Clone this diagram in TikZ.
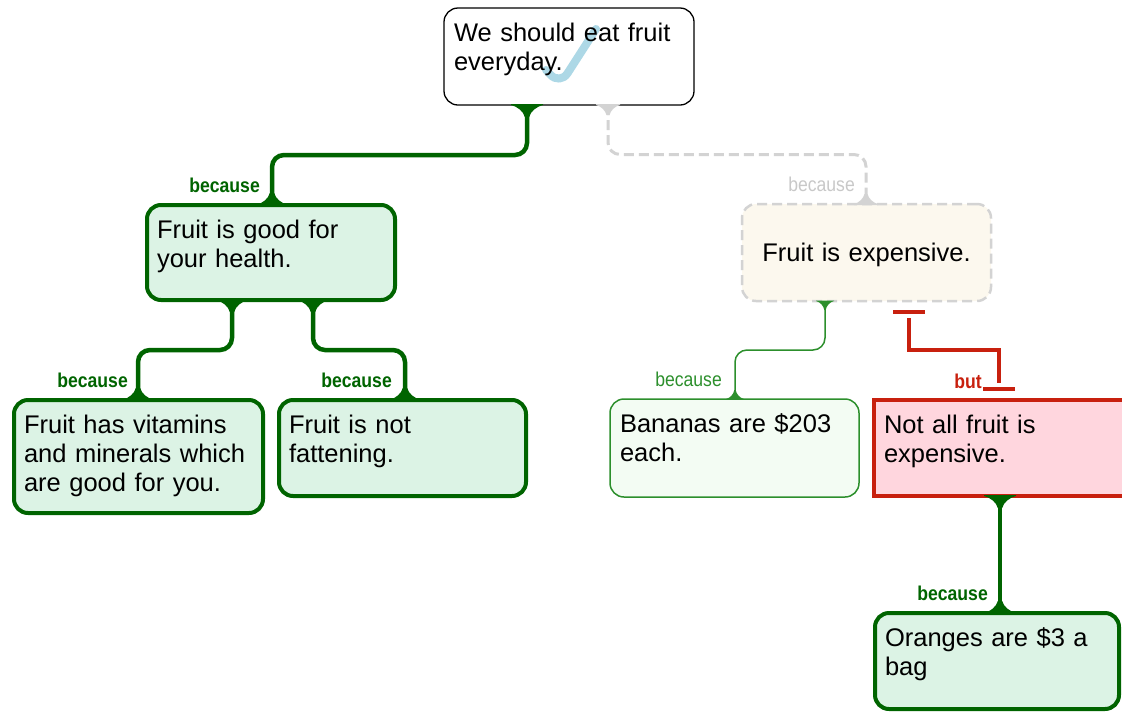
\documentclass[tikz,border=0pt]{standalone}
\usepackage{fontspec}
\setmainfont{Liberation Sans}
\newfontfamily\narrowsans{Liberation Sans}[FakeStretch=0.88]
\usetikzlibrary{calc}

\definecolor{proGreen}{HTML}{006400}
\definecolor{thinGreen}{HTML}{2C8F2C}
\definecolor{dimGray}{HTML}{D3D3D3}
\definecolor{dimText}{HTML}{C8C8C8}
\definecolor{butRed}{HTML}{C8200E}
\definecolor{mintFill}{HTML}{DCF3E5}
\definecolor{paleFill}{HTML}{F3FCF3}
\definecolor{creamFill}{HTML}{FCF8EE}
\definecolor{pinkFill}{HTML}{FFD6DE}
\definecolor{tickBlue}{HTML}{ADD8E6}

\tikzset{
  claim/.style={anchor=north west, align=left, inner xsep=10pt, inner ysep=0pt,
    outer sep=0pt, text height=33pt, rounded corners=14pt,
    font=\fontsize{25.5}{29}\selectfont},
  strongbox/.style={claim, draw=proGreen, fill=mintFill, line width=4pt},
  weakbox/.style={claim, draw=thinGreen, fill=paleFill, line width=1.5pt},
  greybox/.style={claim, draw=dimGray, fill=creamFill, line width=2.5pt,
    dash pattern=on 10pt off 5pt},
  objbox/.style={claim, draw=butRed, fill=pinkFill, line width=4pt, sharp corners},
  strongline/.style={draw=proGreen, line width=4.5pt, rounded corners=12pt},
  weakline/.style={draw=thinGreen, line width=1.5pt, rounded corners=12pt},
  greyline/.style={draw=dimGray, line width=3pt, rounded corners=12pt,
    dash pattern=on 10pt off 5pt},
  butline/.style={draw=butRed, line width=4pt},
  lbl/.style={inner sep=0pt, anchor=base east,
    font=\narrowsans\fontsize{20}{24}\selectfont},
  lblstrong/.style={lbl, text=proGreen, font=\narrowsans\bfseries\fontsize{20}{24}\selectfont},
  % widened joints where a link meets a box
  flareStrong/.pic={\fill[proGreen] (-16,-1) -- (-16,0) .. controls (-9.5,1.5) and (-3.5,6.5) .. (-2.2,12)
    -- (2.2,12) .. controls (3.5,6.5) and (9.5,1.5) .. (16,0) -- (16,-1) -- cycle;},
  flareWeak/.pic={\fill[thinGreen] (-9,-0.5) -- (-9,0) .. controls (-5,1) and (-1.5,4.5) .. (-0.7,9)
    -- (0.7,9) .. controls (1.5,4.5) and (5,1) .. (9,0) -- (9,-0.5) -- cycle;},
  flareGrey/.pic={\fill[dimGray] (-12,-1) -- (-12,0) .. controls (-7,1.2) and (-2.6,5.5) .. (-1.5,10)
    -- (1.5,10) .. controls (2.6,5.5) and (7,1.2) .. (12,0) -- (12,-1) -- cycle;},
}

\begin{document}
\begin{tikzpicture}[x=1pt, y=-1pt]
\path[use as bounding box] (0,0) rectangle (1122,713);
\clip (0,0) rectangle (1122,713);

% claims
\node[claim, draw=black, fill=white, line width=1.3pt, text width=230pt, text depth=64pt,
  path picture={\draw[tickBlue, line width=8pt, line cap=round, line join=round]
    ($(path picture bounding box.north west)+(102,62)$) -- ++(14,15) -- ++(36,-56);}]
  (root) at (444,8) {We should eat fruit\\everyday.};
\node[strongbox, text width=228pt, text depth=62pt] (good) at (147,205)
  {Fruit is good for\\your health.};
\node[strongbox, text width=229pt, text depth=80pt] (vit) at (14,400)
  {Fruit has vitamins\\and minerals which\\are good for you.};
\node[strongbox, text width=227pt, text depth=63pt] (fat) at (279,400)
  {Fruit is not\\fattening.};
\node[greybox, align=center, text width=229pt, text height=57pt, text depth=40pt] (exp) at (742,204)
  {Fruit is expensive.};
\node[weakbox, text width=229pt, text depth=65pt] (ban) at (610,399)
  {Bananas are \$203\\each.};
\node[objbox, text width=260pt, text depth=63pt] (notall) at (874,400)
  {Not all fruit is\\expensive.};
\node[strongbox, text width=224pt, text depth=63pt] (orange) at (875,613)
  {Oranges are \$3 a\\bag};

% connector end points
\coordinate (rootG) at ($(root.south west)+(83,0)$);
\coordinate (goodT) at ($(good.north west)+(125,0)$);
\coordinate (rootD) at ($(root.south west)+(164,0)$);
\coordinate (expT)  at ($(exp.north west)+(124,0)$);
\coordinate (goodL) at ($(good.south west)+(85,0)$);
\coordinate (vitT)  at ($(vit.north west)+(124,0)$);
\coordinate (goodR) at ($(good.south west)+(166,0)$);
\coordinate (fatT)  at ($(fat.north west)+(126,0)$);
\coordinate (expB)  at ($(exp.south west)+(83,0)$);
\coordinate (banT)  at ($(ban.north west)+(125,0)$);
\coordinate (notB)  at ($(notall.south west)+(126,0)$);
\coordinate (orT)   at (notB |- orange.north);
\coordinate (butA)  at ($(exp.south west)+(167,11)$);
\coordinate (butB)  at ($(notall.north west)+(125,-11.5)$);

% supporting links
\draw[strongline] (rootG) |- ($(rootG)!.5!(goodT)$) -| (goodT);
\draw[greyline]   (rootD) |- ($(rootD)!.5!(expT)$) -| (expT);
\draw[strongline] (goodL) |- ($(goodL)!.5!(vitT)$) -| (vitT);
\draw[strongline] (goodR) |- ($(goodR)!.5!(fatT)$) -| (fatT);
\draw[weakline]   (expB) |- ($(expB)!.5!(banT)$) -| (banT);
\draw[strongline] (notB) -- (orT);

\pic at (rootG) {flareStrong};
\pic[yscale=-1] at (goodT) {flareStrong};
\pic at (rootD) {flareGrey};
\pic[yscale=-1] at (expT) {flareGrey};
\pic at (goodL) {flareStrong};
\pic at (goodR) {flareStrong};
\pic[yscale=-1] at (vitT) {flareStrong};
\pic[yscale=-1] at (fatT) {flareStrong};
\pic at (expB) {flareWeak};
\pic[yscale=-1] at (banT) {flareWeak};
\pic at (notB) {flareStrong};
\pic[yscale=-1] at (orT) {flareStrong};

% objection link
\draw[butline] ($(butA)+(-16,0)$) -- ($(butA)+(16,0)$);
\draw[butline] ($(butB)+(-16,0)$) -- ($(butB)+(16,0)$);
\draw[butline] ($(butA)+(0,6)$) |- ($(butA)!.5!(butB)$) -| ($(butB)+(0,-6)$);

% link labels
\node[lblstrong] (lGood) at ($(goodT)+(-12,-13)$) {because};
\node[lbl, text=dimText] (lExp) at ($(expT)+(-11,-13)$) {because};
\node[lblstrong] (lVit) at ($(vitT)+(-10,-13)$) {because};
\node[lblstrong] (lFat) at ($(fatT)+(-13,-13)$) {because};
\node[lbl, text=thinGreen] (lBan) at ($(banT)+(-13,-13)$) {because};
\node[lblstrong] (lOr) at ($(orT)+(-12,-13)$) {because};
\node[lblstrong, text=butRed] (lBut) at ($(butB)+(-17,0)$) {but};
\end{tikzpicture}
\end{document}
